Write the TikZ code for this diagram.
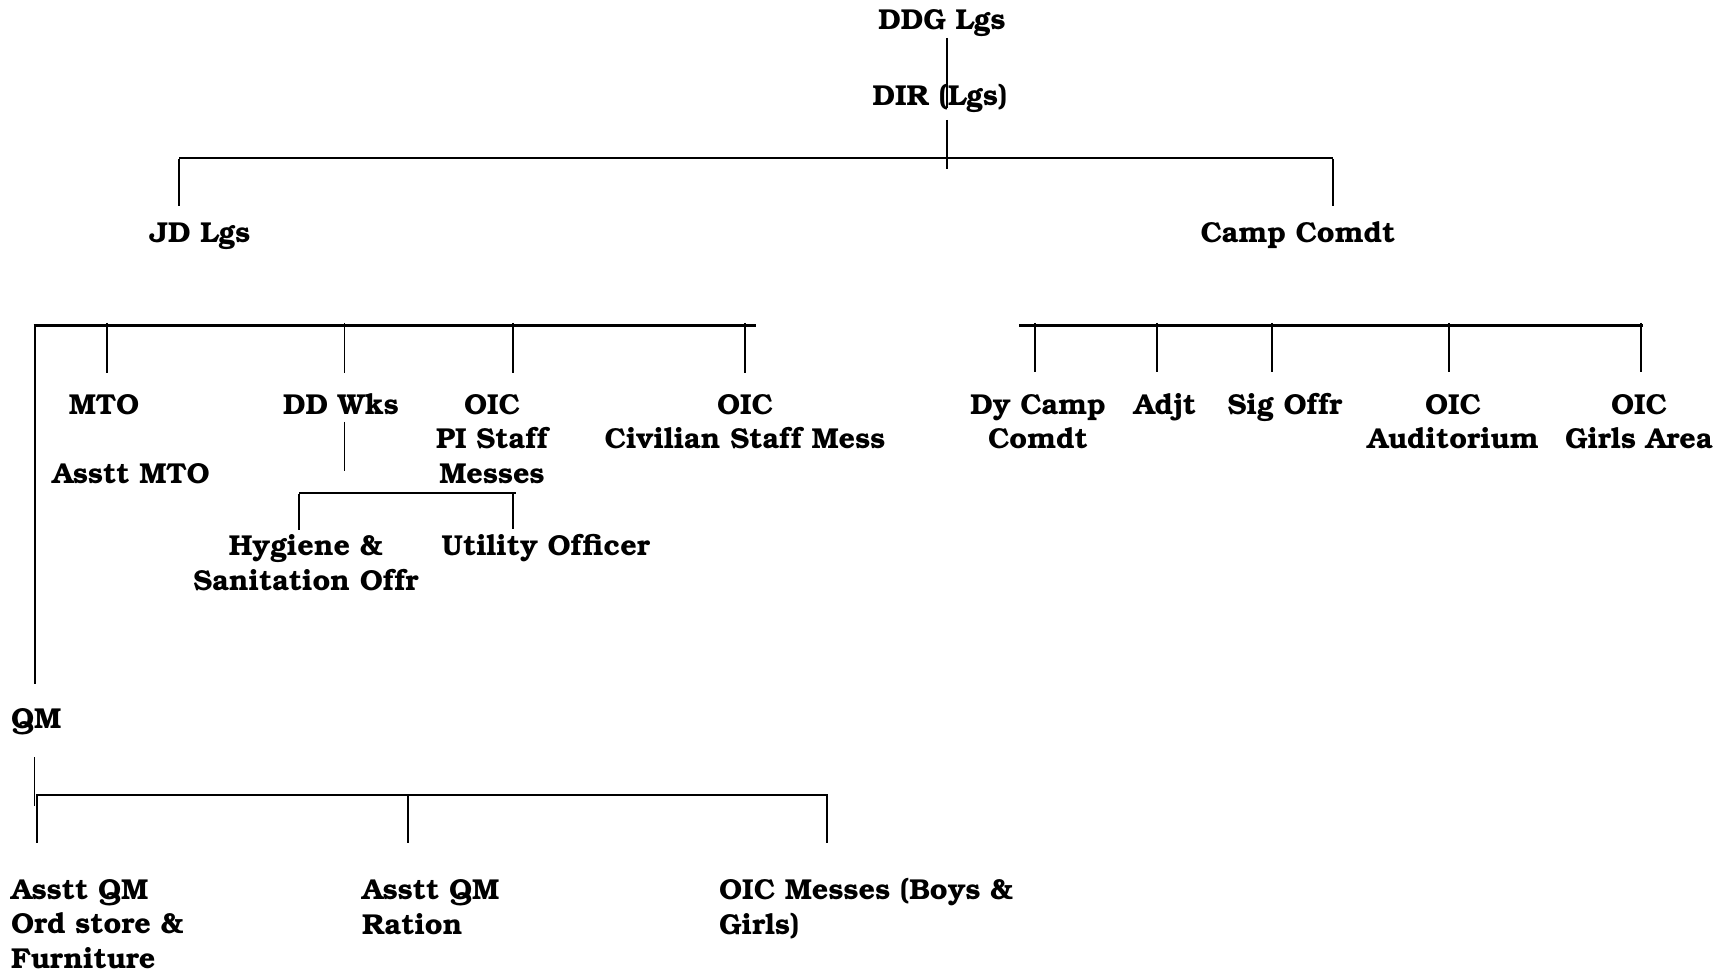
\documentclass[tikz,border=0pt]{standalone}
\usepackage[T1]{fontenc}
\usepackage{bookman}
\begin{document}
\begin{tikzpicture}[x=1pt,y=-1pt,
  lbl/.style={inner sep=0pt, font=\fontsize{28.8}{34.7}\selectfont\bfseries, align=center, anchor=base, yshift=-1.5pt},
  lbll/.style={lbl, align=left, anchor=base west},
  hl/.style={line width=2.4pt},
  vl/.style={line width=1.6pt}]
\useasboundingbox (0,0) rectangle (1722,973);
% labels (multi-line nodes are anchored at the baseline of their last line)
\node[lbl] (ddg) at (942,28) {DDG Lgs};
\node[lbl] (dir) at (940,104) {DIR (Lgs)};
\node[lbl] (jd) at (200,241) {JD Lgs};
\node[lbl] (camp) at (1298,241) {Camp Comdt};
\node[lbl] (mto) at (104,413) {MTO};
\node[lbl] (amto) at (131,482) {Asstt MTO};
\node[lbl] (ddwks) at (341,413) {DD Wks};
\node[lbl] (oicpi) at (492,482) {OIC\\PI Staff\\Messes};
\node[lbl] (oicciv) at (745,447.5) {OIC\\Civilian Staff Mess};
\node[lbl] (hyg) at (306,588.5) {Hygiene \&\\Sanitation Offr};
\node[lbl] (util) at (546,554) {Utility Officer};
\node[lbl] (dycamp) at (1038,447.5) {Dy Camp\\Comdt};
\node[lbl] (adjt) at (1165,413) {Adjt};
\node[lbl] (sig) at (1285,413) {Sig Offr};
\node[lbl] (oicaud) at (1453,447.5) {OIC\\Auditorium};
\node[lbl] (oicgirls) at (1639,447.5) {OIC\\Girls Area};
\node[lbll] (qm) at (11,727) {QM};
\node[lbll] (aqm1) at (11,967) {Asstt QM\\Ord store \&\\Furniture};
\node[lbll] (aqm2) at (362,932.5) {Asstt QM\\Ration};
\node[lbll] (oicm) at (719,932.5) {OIC Messes (Boys \&\\Girls)};
% coordinates
\coordinate (a1) at (946.7,38);  \coordinate (a2) at (946.7,108);
\coordinate (a3) at (946.7,120); \coordinate (a4) at (946.7,169);
\coordinate (b1) at (179,158);   \coordinate (b2) at (1333,158);
\coordinate (b3) at (179,206);   \coordinate (b4) at (1333,206);
\coordinate (l1) at (33.5,325.7); \coordinate (l2) at (756,325.7);
\coordinate (l3) at (34.6,684);
\coordinate (r1) at (1019,325.7); \coordinate (r2) at (1643,325.7);
\coordinate (q1) at (34.4,757);  \coordinate (q2) at (34.4,806);
\coordinate (q3) at (37,795);    \coordinate (q4) at (827,795);
\coordinate (k1) at (299,493);   \coordinate (k2) at (516,493);
\coordinate (d1) at (344.5,422); \coordinate (d2) at (344.5,471);
% top
\draw[vl] (a1) -- (a2);
\draw[vl] (a3) -- (a4);
\draw[hl] (b1) -- (b2);
\draw[vl] ([yshift=-1pt]b1) -- (b3);
\draw[vl] ([yshift=-1pt]b2) -- (b4);
% left group
\draw[hl] (l1) -- (l2);
\draw[line width=2pt] ([yshift=-1pt]l1 -| l3) -- (l3);
\foreach \x in {107,344.5,513,745} {\draw[vl] (\x,323) -- (\x,373);}
\draw[vl] (d1) -- (d2);
\draw[hl] (k1) -- (k2);
\draw[vl] ([yshift=-1pt]k1) -- ++(0,36);
\draw[vl] (513,492) -- (513,529);
% right group
\draw[hl] (r1) -- (r2);
\foreach \x in {1035,1157,1272,1449,1641} {\draw[vl] (\x,323) -- (\x,372);}
% QM
\draw[vl] (q1) -- (q2);
\draw[hl] (q3) -- (q4);
\foreach \x in {37,408,827} {\draw[vl] (\x,794) -- (\x,843);}
\end{tikzpicture}
\end{document}
